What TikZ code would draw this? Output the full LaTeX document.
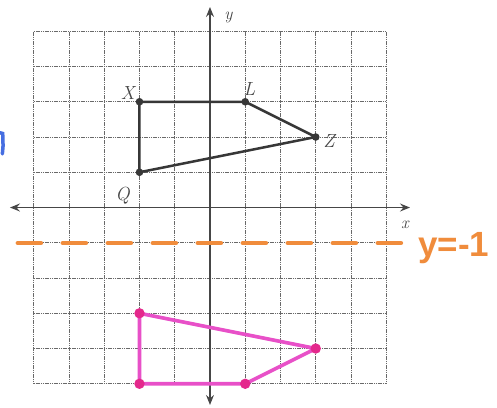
\documentclass[tikz,border=0pt]{standalone}
\usepackage{fontspec}
\newfontfamily\handfont{Liberation Sans}
\usetikzlibrary{arrows.meta}
\definecolor{gridgray}{RGB}{105,105,105}
\definecolor{axisgray}{RGB}{70,70,70}
\definecolor{shapegray}{RGB}{55,55,55}
\definecolor{pinkline}{RGB}{232,80,200}
\definecolor{pinkdot}{RGB}{228,40,140}
\definecolor{orangemark}{RGB}{240,140,60}
\definecolor{bluemark}{RGB}{70,110,225}
\tikzset{
  gridline/.style={gridgray, line width=0.7pt, dash pattern=on 1.2pt off 0.6pt},
  axisline/.style={axisgray, line width=1.1pt, -{Stealth[length=10pt,width=8pt,inset=3.5pt]}},
  origshape/.style={shapegray, line width=2.5pt, line join=round},
  imgshape/.style={pinkline, line width=3.6pt, line join=round},
  ptlabel/.style={font=\fontsize{19}{19}\selectfont\itshape, text=axisgray, inner sep=0pt},
  axlabel/.style={font=\fontsize{17}{17}\selectfont\itshape, text=axisgray, inner sep=0pt},
  reflline/.style={orangemark, line width=4.5pt, line cap=round, dash pattern=on 23pt off 22pt},
}
\begin{document}
\begin{tikzpicture}[x=35.25pt,y=35.25pt]
\useasboundingbox (-5.957,-5.660) rectangle (8.142,5.887);
\fill[white] (-5.957,-5.660) rectangle (8.142,5.887);
% grid
\foreach \i in {-5,...,5} {
  \draw[gridline] (\i,-5) -- (\i,5);
  \draw[gridline] (-5,\i) -- (5,\i);
}
% axes
\coordinate (xl) at (-5.674,0);
\coordinate (xr) at (5.674,0);
\coordinate (yt) at (0,5.688);
\coordinate (yb) at (0,-5.60);
\coordinate (o) at (0,0);
\draw[axisline] (o) -- (xr);
\draw[axisline] (o) -- (xl);
\draw[axisline] (o) -- (yt);
\draw[axisline] (o) -- (yb);
\node[axlabel] (ylab) at (0.52,5.40) {y};
\node[axlabel] (xlab) at (5.53,-0.50) {x};
% reflection line
\coordinate (ra) at (-5.45,-1.007);
\coordinate (rb) at (5.53,-1.007);
\draw[reflline] (ra) -- (rb);
\node[anchor=base west, inner sep=0pt, text=orangemark, font=\handfont\bfseries\fontsize{35}{35}\selectfont] (rlab) at (5.90,-1.40) {y=-1};
% original figure
\coordinate (X) at (-2,3);
\coordinate (L) at (1,3);
\coordinate (Z) at (3,2);
\coordinate (Q) at (-2,1);
\draw[origshape] (X) -- (L) -- (Z) -- (Q) -- cycle;
\foreach \p in {X,L,Z,Q} \fill[shapegray] (\p) circle (3.8pt);
\node[ptlabel] (Xlab) at (-2.33,3.26) {X};
\node[ptlabel] (Llab) at (1.12,3.36) {L};
\node[ptlabel] (Zlab) at (3.38,1.89) {Z};
\node[ptlabel] (Qlab) at (-2.48,0.34) {Q};
% image figure
\coordinate (X2) at (-2,-5);
\coordinate (L2) at (1,-5);
\coordinate (Z2) at (3,-4);
\coordinate (Q2) at (-2,-3);
\draw[imgshape] (X2) -- (L2) -- (Z2) -- (Q2) -- cycle;
\foreach \p in {X2,L2,Z2,Q2} \fill[pinkdot] (\p) circle (5.2pt);
% blue edge mark
\draw[bluemark, line width=3.5pt, line cap=round] (-5.957,2.12) -- (-5.88,2.10) -- (-5.87,1.75) -- (-5.89,1.52);
\end{tikzpicture}
\end{document}
